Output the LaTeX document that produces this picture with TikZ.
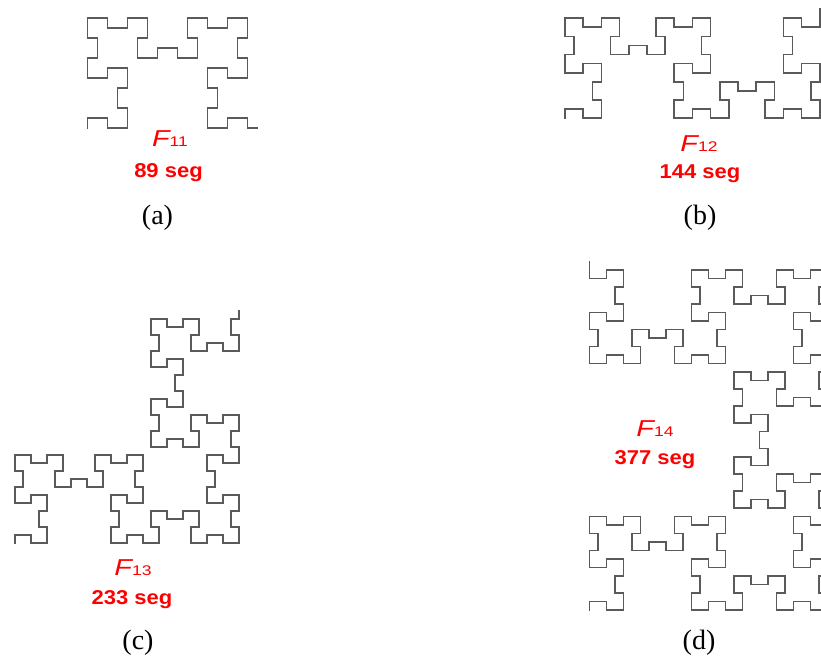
\documentclass[tikz,border=0pt]{standalone}
\usepackage{fontspec}
\usepackage{graphicx}
\setmainfont{Liberation Serif}
\newfontfamily\labfont{Liberation Sans}
\newcount\fwx \newcount\fwy \newcount\fwdx \newcount\fwdy
\newcount\fwk \newcount\fwN \newcount\fwtmp
\def\fwA{0}\def\fwB{01}
\def\fwgen{\edef\fwC{\fwB\fwA}\let\fwA\fwB\let\fwB\fwC}
\fwgen\fwgen\fwgen\fwgen\fwgen\fwgen\fwgen\fwgen\fwgen\fwgen\fwgen
\def\fwright{\fwtmp=\fwdx \fwdx=\fwdy \fwdy=-\fwtmp}
\def\fwleft{\fwtmp=\fwdx \fwdx=-\fwdy \fwdy=\fwtmp}
\def\fwturn{\ifodd\fwk\fwright\else\fwleft\fi}
\def\fwloop#1{%
  \ifx#1\relax\else
    \ifnum\fwk<\fwN
      \advance\fwk by 1
      \advance\fwx by \fwdx
      \advance\fwy by \fwdy
      \edef\fwpath{\fwpath--(\the\fwx,\the\fwy)}%
      \if0#1\fwturn\fi
    \fi
    \expandafter\fwloop
  \fi}
\def\fwbuild#1{\fwN=#1\relax \fwx=0\relax \fwy=0\relax \fwdx=0\relax \fwdy=1\relax \fwk=0\relax
  \def\fwpath{(0,0)}\expandafter\fwloop\fwB\relax}
\def\fwdraw#1{\fwbuild{#1}\edef\fwcmd{\noexpand\draw[curve] \fwpath;}\fwcmd}
\newcommand\fwname[1]{\scalebox{1.25}[1]{{\fontsize{23}{23}\selectfont\itshape F}{\fontsize{14}{14}\selectfont #1}}}
\newcommand\fwseg[1]{\scalebox{1.1}[1]{\fontsize{20}{20}\selectfont\bfseries #1 seg}}
\begin{document}
\begin{tikzpicture}[x=1pt,y=1pt,
  curve/.style={draw={rgb,255:red,90;green,90;blue,90},line width=1.6pt,line join=miter,line cap=rect},
  lab/.style={text=red,font=\labfont,anchor=base,inner sep=0pt},
  capt/.style={font=\fontsize{28}{28}\selectfont,anchor=base,inner sep=0pt}]
\useasboundingbox[fill=white] (0,0) rectangle (821,660);
% (a)
\begin{scope}
\clip (60,660-150) rectangle (300,660);
\begin{scope}[shift={(87.3,660-128.3)},x=10pt,y=10pt]
\fwdraw{89}
\end{scope}
\end{scope}
% (b)
\begin{scope}
\clip (540,660-150) rectangle (821,653);
\begin{scope}[shift={(565,660-118.3)},x=9.1pt,y=9.1pt]
\fwdraw{144}
\end{scope}
\end{scope}
% (c)
\begin{scope}
\clip (0,660-560) rectangle (300,660-300);
\begin{scope}[shift={(15,660-543.3)},x=8pt,y=8pt]
\fwdraw{233}
\end{scope}
\end{scope}
% (d)
\begin{scope}
\clip (570,660-620) rectangle (821,660-262);
\begin{scope}[shift={(589.3,660-610)},x=8.5pt,y=8.5pt]
\fwdraw{377}
\end{scope}
\end{scope}
% labels
\node[lab] (fa) at (170,660-146.7) {\fwname{11}};
\node[lab] (sa) at (168.5,660-177.7) {\fwseg{89}};
\node[capt] (ca) at (157.5,660-225) {(a)};
\node[lab] (fb) at (699,660-151.7) {\fwname{12}};
\node[lab] (sb) at (700,660-178.3) {\fwseg{144}};
\node[capt] (cb) at (700,660-225) {(b)};
\node[lab] (fc) at (133,660-576) {\fwname{13}};
\node[lab] (sc) at (132,660-605) {\fwseg{233}};
\node[capt] (cc) at (138,660-650) {(c)};
\node[lab] (fd) at (655,660-436.7) {\fwname{14}};
\node[lab] (sd) at (655,660-465) {\fwseg{377}};
\node[capt] (cd) at (699,660-650) {(d)};
\end{tikzpicture}
\end{document}
